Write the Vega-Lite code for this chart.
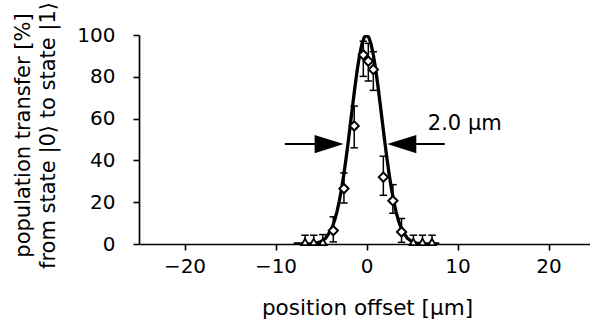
{
  "$schema": "https://vega.github.io/schema/vega-lite/v6.json",
  "width": 451,
  "height": 209,
  "autosize": "none",
  "padding": {"left": 139, "top": 35, "right": 0, "bottom": 76},
  "background": "white",
  "config": {
    "view": {"stroke": null},
    "font": "DejaVu Sans",
    "axis": {
      "grid": false,
      "domainColor": "black",
      "domainWidth": 1.7,
      "tickColor": "black",
      "tickWidth": 1.6,
      "tickSize": 6,
      "labelFont": "DejaVu Sans",
      "labelFontSize": 20,
      "labelColor": "black",
      "titleFont": "DejaVu Sans",
      "titleFontSize": 21.5,
      "titleFontWeight": "normal",
      "titleColor": "black"
    }
  },
  "datasets": {
    "obs": [
      {"kind": "t", "x": -6.75, "y": 1, "lo": 0, "hi": 4.2},
      {"kind": "t", "x": -5.8, "y": 1, "lo": 0, "hi": 4.2},
      {"kind": "t", "x": -4.8, "y": 1, "lo": 0, "hi": 4.5},
      {"kind": "d", "x": -3.65, "y": 6.4, "lo": 1, "hi": 13},
      {"kind": "d", "x": -2.48, "y": 26.5, "lo": 19.6, "hi": 34},
      {"kind": "d", "x": -1.35, "y": 56.5, "lo": 46, "hi": 66},
      {"kind": "d", "x": -0.35, "y": 90.5, "lo": 80.2, "hi": 97},
      {"kind": "d", "x": 0.2, "y": 87.5, "lo": 78, "hi": 96},
      {"kind": "d", "x": 0.75, "y": 83.5, "lo": 73.5, "hi": 92},
      {"kind": "d", "x": 1.85, "y": 32, "lo": 23.3, "hi": 42},
      {"kind": "d", "x": 2.9, "y": 20.7, "lo": 14.7, "hi": 28.4},
      {"kind": "d", "x": 3.85, "y": 5.8, "lo": 0.8, "hi": 12.2},
      {"kind": "t", "x": 5.15, "y": 1, "lo": 0, "hi": 4.2},
      {"kind": "t", "x": 6.15, "y": 1, "lo": 0, "hi": 4.2},
      {"kind": "t", "x": 7.2, "y": 1, "lo": 0, "hi": 4.2}
    ],
    "curve": [
      {"x": -8, "y": 0.001}, {"x": -7, "y": 0.02}, {"x": -6, "y": 0.17},
      {"x": -5.5, "y": 0.47}, {"x": -5, "y": 1.19}, {"x": -4.5, "y": 2.77},
      {"x": -4, "y": 5.87}, {"x": -3.75, "y": 8.28}, {"x": -3.5, "y": 11.4},
      {"x": -3.25, "y": 15.4}, {"x": -3, "y": 20.3}, {"x": -2.75, "y": 26.2},
      {"x": -2.5, "y": 33.05}, {"x": -2.25, "y": 40.8}, {"x": -2, "y": 49.2},
      {"x": -1.75, "y": 58.1}, {"x": -1.5, "y": 67.1}, {"x": -1.25, "y": 75.8},
      {"x": -1, "y": 83.8}, {"x": -0.75, "y": 90.5}, {"x": -0.5, "y": 95.7},
      {"x": -0.25, "y": 98.9}, {"x": 0, "y": 100},
      {"x": 0.25, "y": 98.9}, {"x": 0.5, "y": 95.7}, {"x": 0.75, "y": 90.5},
      {"x": 1, "y": 83.8}, {"x": 1.25, "y": 75.8}, {"x": 1.5, "y": 67.1},
      {"x": 1.75, "y": 58.1}, {"x": 2, "y": 49.2}, {"x": 2.25, "y": 40.8},
      {"x": 2.5, "y": 33.05}, {"x": 2.75, "y": 26.2}, {"x": 3, "y": 20.3},
      {"x": 3.25, "y": 15.4}, {"x": 3.5, "y": 11.4}, {"x": 3.75, "y": 8.28},
      {"x": 4, "y": 5.87}, {"x": 4.5, "y": 2.77}, {"x": 5, "y": 1.19},
      {"x": 5.5, "y": 0.47}, {"x": 6, "y": 0.17}, {"x": 7, "y": 0.02}, {"x": 8, "y": 0.001}
    ],
    "arrows": [
      {"x": -8.98, "x2": -4.11, "y": 47.8, "dir": "r"},
      {"x": 8.6, "x2": 3.88, "y": 47.8, "dir": "l"}
    ],
    "heads": [
      {"x": -4.11, "y": 47.8, "dir": "r"},
      {"x": 3.88, "y": 47.8, "dir": "l"}
    ],
    "label": [
      {"x": 6.74, "y": 54.7, "text": "2.0 µm"}
    ]
  },
  "encoding": {
    "x": {
      "field": "x", "type": "quantitative",
      "scale": {"domain": [-25, 24.56], "nice": false, "zero": false},
      "axis": {
        "title": "position offset [µm]",
        "values": [-20, -10, 0, 10, 20],
        "labelPadding": 6,
        "titleX": 228,
        "titleY": 70,
        "titleAlign": "center",
        "titleBaseline": "alphabetic"
      }
    },
    "y": {
      "field": "y", "type": "quantitative",
      "scale": {"domain": [0, 100], "nice": false, "zero": false},
      "axis": {
        "title": ["population transfer [%]", "from state |0⟩ to state |1⟩"],
        "values": [0, 20, 40, 60, 80, 100],
        "labelPadding": 18,
        "titleAngle": -90,
        "titleX": -116,
        "titleY": 100,
        "titleFontSize": 21,
        "titleAlign": "center",
        "titleBaseline": "middle",
        "titleLineHeight": 25
      }
    }
  },
  "layer": [
    {
      "data": {"name": "obs"},
      "mark": {"type": "rule", "color": "black", "strokeWidth": 1.5},
      "encoding": {
        "y": {"field": "lo", "type": "quantitative"},
        "y2": {"field": "hi"}
      }
    },
    {
      "data": {"name": "obs"},
      "mark": {"type": "point", "shape": "M-1,0L1,0", "size": 56, "filled": false, "color": "black", "strokeWidth": 1.5, "opacity": 1},
      "encoding": {
        "y": {"field": "lo", "type": "quantitative"}
      }
    },
    {
      "data": {"name": "obs"},
      "mark": {"type": "point", "shape": "M-1,0L1,0", "size": 56, "filled": false, "color": "black", "strokeWidth": 1.5, "opacity": 1},
      "encoding": {
        "y": {"field": "hi", "type": "quantitative"}
      }
    },
    {
      "data": {"name": "curve"},
      "mark": {"type": "line", "color": "black", "strokeWidth": 3.3, "clip": true},
      "encoding": {}
    },
    {
      "data": {"name": "obs"},
      "transform": [{"filter": "datum.kind === 'd'"}],
      "mark": {"type": "point", "shape": "diamond", "size": 85, "filled": true, "fill": "white", "stroke": "black", "strokeWidth": 2, "opacity": 1}
    },
    {
      "data": {"name": "obs"},
      "transform": [{"filter": "datum.kind === 't'"}],
      "mark": {"type": "point", "shape": "triangle-up", "size": 55, "filled": true, "fill": "white", "stroke": "black", "strokeWidth": 1.8, "opacity": 1}
    },
    {
      "data": {"name": "arrows"},
      "mark": {"type": "rule", "color": "black", "strokeWidth": 2},
      "encoding": {
        "x2": {"field": "x2"}
      }
    },
    {
      "data": {"name": "heads"},
      "mark": {"type": "point", "filled": true, "color": "black", "size": 841, "opacity": 1},
      "encoding": {
        "shape": {
          "field": "dir", "type": "nominal", "legend": null,
          "scale": {"domain": ["r", "l"], "range": ["M-1,-0.63L1,0L-1,0.63Z", "M1,-0.63L-1,0L1,0.63Z"]}
        }
      }
    },
    {
      "data": {"name": "label"},
      "mark": {"type": "text", "align": "left", "baseline": "alphabetic", "font": "DejaVu Sans", "fontSize": 21, "color": "black"},
      "encoding": {
        "text": {"field": "text"}
      }
    },
    {
      "data": {"values": [{}]},
      "mark": {"type": "rule", "color": "black", "strokeWidth": 1.8},
      "encoding": {
        "x": {"value": 0},
        "x2": {"value": 451},
        "y": {"datum": 100}
      }
    }
  ]
}
